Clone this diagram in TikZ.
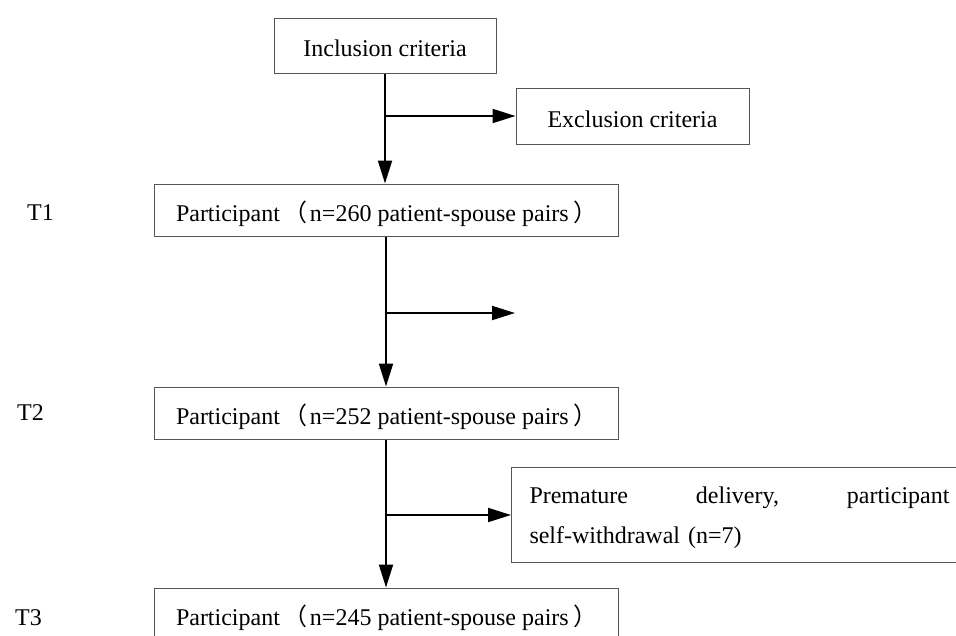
\documentclass[tikz,border=0pt]{standalone}
\usepackage{fontspec}
\setmainfont{Liberation Serif}
\newfontfamily\cjkparen{Noto Sans CJK SC}
\usetikzlibrary{arrows.meta}
\newcommand{\lpar}{\hspace{4pt}{\cjkparen （}\hspace{2pt}}
\newcommand{\rpar}{\hspace{5pt}{\cjkparen ）}}
\newcommand{\parttext}[1]{\makebox[420pt][l]{#1}}
\begin{document}
\begin{tikzpicture}[x=1pt,y=-1pt,
  boxline/.style={draw={rgb,255:red,85;green,85;blue,85}, line width=1pt},
  onebox/.style={boxline, inner sep=0pt, text height=22pt, text depth=0pt,
    font=\fontsize{24}{28}\selectfont},
  partbox/.style={onebox, minimum width=464pt, minimum height=52pt},
  flow/.style={line width=2pt, -{Triangle[length=23pt,width=14pt]}},
  lbl/.style={font=\fontsize{24}{28}\selectfont, inner sep=0pt, anchor=base west}]
\useasboundingbox (0,0) rectangle (956,635);
\clip (0,0) rectangle (956,635);

\node[onebox, minimum width=222pt, minimum height=55pt] (inc) at (385,45.5) {Inclusion criteria};
\node[onebox, minimum width=233pt, minimum height=56pt] (exc) at (632.5,116) {Exclusion criteria};

\node[partbox] (p1) at (386,210) {\parttext{Participant\lpar n=260 patient-spouse pairs\rpar}};
\node[partbox] (p2) at (386,413) {\parttext{Participant\lpar n=252 patient-spouse pairs\rpar}};
\node[partbox] (p3) at (386,614) {\parttext{Participant\lpar n=245 patient-spouse pairs\rpar}};

\node[boxline, anchor=north west, minimum height=95pt, text width=420pt,
  inner xsep=18pt, inner ysep=0pt, align=left,
  font=\fontsize{24}{40}\selectfont] (prem) at (511,467)
  {\rule{0pt}{22pt}\makebox[420pt][l]{Premature\hfill delivery,\hfill participant}\\ self-withdrawal (n=7)};

\node[lbl] (t1) at (27,220) {T1};
\node[lbl] (t2) at (17,420) {T2};
\node[lbl] (t3) at (15,625) {T3};

\draw[flow] (inc.south) -- (inc.south |- p1.north);
\coordinate (b1) at (inc.south |- exc.west);
\draw[flow] (b1) -- (exc.west);

\draw[flow] (p1.south) -- (p2.north);
\coordinate (e2) at (515,313);
\draw[flow] (p1.south |- e2) -- (e2);

\draw[flow] (p2.south) -- (p3.north);
\draw[flow] (p2.south |- prem.west) -- (prem.west);
\end{tikzpicture}
\end{document}
